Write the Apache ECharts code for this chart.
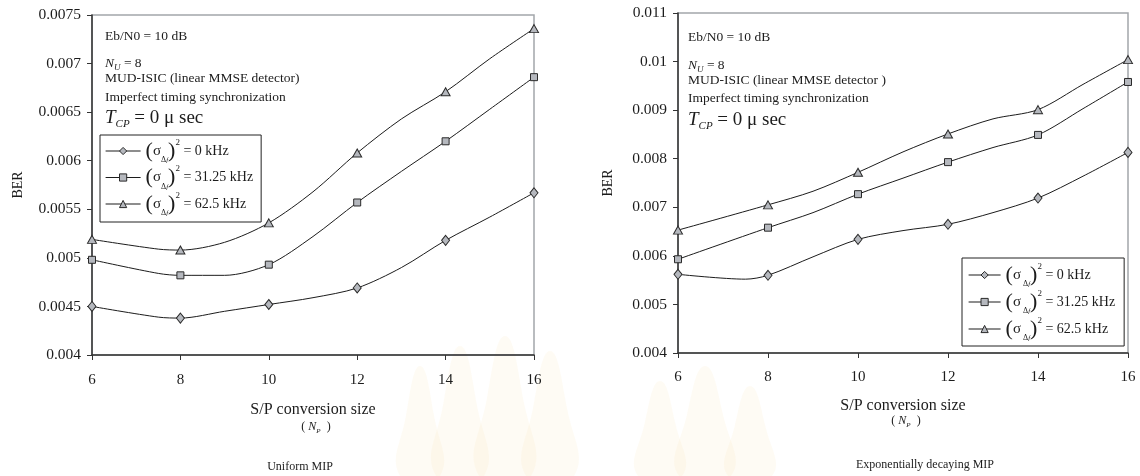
<!DOCTYPE html>
<html>
<head>
<meta charset="utf-8">
<script src="https://cdn.jsdelivr.net/npm/echarts@6/dist/echarts.min.js"></script>
<style>
  html, body { margin: 0; padding: 0; background: #ffffff; }
  #chart { width: 1140px; height: 476px; }
</style>
</head>
<body>
<div id="chart"></div>
<script>
// ---- BER vs S/P conversion size (N_P), Eb/N0 = 10 dB, N_U = 8 ----

// Uniform MIP
const uniformSizes = [6, 7.5, 8, 9, 10, 11, 12, 13, 14, 15, 16];
const uniformBer0  = [0.00450, 0.00439, 0.00438, 0.00445, 0.00452, 0.00459, 0.00469, 0.00490, 0.00518, 0.00542, 0.00567];
const uniformBer31 = [0.00498, 0.00484, 0.00482, 0.00482, 0.00493, 0.00522, 0.00557, 0.00589, 0.00620, 0.00653, 0.00686];
const uniformBer62 = [0.00519, 0.00509, 0.00508, 0.00516, 0.00536, 0.00568, 0.00608, 0.00643, 0.00671, 0.00705, 0.00736];

// Exponentially decaying MIP
const expSizes0 = [6, 7.5, 8, 9, 10, 11, 12, 13, 14, 15, 16];
const expBer0   = [0.00562, 0.00552, 0.00560, 0.00598, 0.00634, 0.00652, 0.00665, 0.00689, 0.00719, 0.00764, 0.00813];
const expSizes  = [6, 8, 9, 10, 11, 12, 13, 14, 15, 16];
const expBer31  = [0.00593, 0.00658, 0.00689, 0.00727, 0.00760, 0.00793, 0.00823, 0.00849, 0.00903, 0.00958];
const expBer62  = [0.00653, 0.00705, 0.00733, 0.00772, 0.00814, 0.00851, 0.00882, 0.00901, 0.00953, 0.01004];

// Legend entries (frequency offset variance)
const varianceLabels = ['0 kHz', '31.25 kHz', '62.5 kHz'];

// Axis ticks
const sizeTicks = [6, 8, 10, 12, 14, 16];
const uniformBerTicks = [0.004, 0.0045, 0.005, 0.0055, 0.006, 0.0065, 0.007, 0.0075];
const expBerTicks = [0.004, 0.005, 0.006, 0.007, 0.008, 0.009, 0.01, 0.011];

const SERIF = '"Liberation Serif", "Times New Roman", Times, serif';
const INK = '#1c1c1c';

const markerStyle = { color: '#b5b8be', borderColor: '#2a2a2a', borderWidth: 1 };
const markers = [
  { symbol: 'diamond',  size: [8, 10] },
  { symbol: 'rect',     size: [7, 7] },
  { symbol: 'triangle', size: [9, 8] }
];

function makeSeries(name, xs, ys, mk, axis) {
  return {
    type: 'line',
    name: name,
    xAxisIndex: axis,
    yAxisIndex: axis,
    symbol: mk.symbol,
    symbolSize: mk.size,
    showAllSymbol: true,
    smooth: 0.3,
    silent: true,
    z: 3,
    lineStyle: { color: INK, width: 1 },
    itemStyle: markerStyle,
    // markers only on the even conversion sizes
    data: xs.map((x, i) => ({
      value: [x, ys[i]],
      symbol: Number.isInteger(x) && x % 2 === 0 ? mk.symbol : 'none'
    }))
  };
}

function sigmaRich(p, s, d, t) {
  return {
    p:   { fontFamily: SERIF, fontSize: p, lineHeight: 26, color: INK },
    s:   { fontFamily: SERIF, fontSize: s, color: INK },
    d:   { fontFamily: SERIF, fontSize: d, verticalAlign: 'bottom', lineHeight: 18, color: INK },
    f:   { fontFamily: SERIF, fontSize: d - 1, fontStyle: 'italic', verticalAlign: 'bottom', lineHeight: 14, color: INK },
    sup: { fontFamily: SERIF, fontSize: 9, verticalAlign: 'top', lineHeight: 9, color: INK },
    t:   { fontFamily: SERIF, fontSize: t, color: INK }
  };
}

function legendFor(axis, box, rich, gap, iconW) {
  return {
    data: varianceLabels,
    orient: 'vertical',
    left: box.left,
    top: box.top,
    padding: box.padding,
    itemGap: gap,
    itemWidth: iconW,
    itemHeight: 9,
    borderColor: '#222',
    borderWidth: 1,
    backgroundColor: '#ffffff',
    selectedMode: false,
    inactiveColor: INK,
    lineStyle: { width: 1.2 },
    itemStyle: { borderWidth: 1 },
    formatter: name => '{p|(}{s|σ}{d|' + (axis ? ' Δ' : 'Δ') + '}{f|f}{p|)}{sup|2}{t| = ' + name + '}',
    textStyle: { rich: rich }
  };
}

function xAxisFor(i, margin) {
  return {
    type: 'value', gridIndex: i,
    min: sizeTicks[0], max: sizeTicks[sizeTicks.length - 1],
    interval: sizeTicks[1] - sizeTicks[0],
    axisLine: { lineStyle: { color: '#333', width: 1.5 } },
    axisTick: { show: true, length: 5, lineStyle: { color: '#333' } },
    splitLine: { show: false },
    axisLabel: { color: INK, fontFamily: SERIF, fontSize: 15, margin: margin }
  };
}

function yAxisFor(i, ticks) {
  return {
    type: 'value', gridIndex: i,
    min: ticks[0], max: ticks[ticks.length - 1],
    interval: ticks[1] - ticks[0],
    axisLine: { show: true, lineStyle: { color: '#333', width: 1.5 } },
    axisTick: { show: true, length: 5, lineStyle: { color: '#333' } },
    splitLine: { show: false },
    axisLabel: { color: INK, fontFamily: SERIF, fontSize: 15.5, margin: 11,
                 formatter: v => String(+v.toFixed(6)) }
  };
}

function txt(x, y, text, size, extra) {
  return {
    type: 'text', x: x, y: y, silent: true,
    style: Object.assign({ text: text, fill: INK, font: size + 'px ' + SERIF,
                           verticalAlign: 'middle', align: 'left' }, extra || {})
  };
}

function richTxt(x, y, text, rich, align) {
  return {
    type: 'text', x: x, y: y, silent: true,
    style: { text: text, rich: rich, fill: INK, verticalAlign: 'middle', align: align || 'left',
             font: '13px ' + SERIF }
  };
}

const nuRich = {
  i:   { fontFamily: SERIF, fontSize: 13.5, fontStyle: 'italic', color: INK, lineHeight: 18 },
  sub: { fontFamily: SERIF, fontSize: 9, fontStyle: 'italic', color: INK, verticalAlign: 'bottom', lineHeight: 11 },
  n:   { fontFamily: SERIF, fontSize: 13.5, color: INK }
};
const tcpRich = {
  i:   { fontFamily: SERIF, fontSize: 19, fontStyle: 'italic', color: INK, lineHeight: 24 },
  sub: { fontFamily: SERIF, fontSize: 11, fontStyle: 'italic', color: INK, verticalAlign: 'bottom', lineHeight: 14 },
  n:   { fontFamily: SERIF, fontSize: 19, color: INK }
};
const npRich = {
  n:   { fontFamily: SERIF, fontSize: 12, color: INK, lineHeight: 16 },
  i:   { fontFamily: SERIF, fontSize: 12, fontStyle: 'italic', color: INK },
  sub: { fontFamily: SERIF, fontSize: 7, fontStyle: 'italic', color: INK, verticalAlign: 'bottom', lineHeight: 10 }
};

function annotations(x, ys, detector) {
  return [
    txt(x, ys[0], 'Eb/N0 = 10 dB', 13.5),
    richTxt(x, ys[1], '{i|N}{sub|U}{n| = 8}', nuRich),
    txt(x, ys[2], detector, 13.5),
    txt(x, ys[3], 'Imperfect timing synchronization', 13.5),
    richTxt(x, ys[4], '{i|T}{sub|CP}{n| = 0 μ sec}', tcpRich)
  ];
}

function axisTitles(cx, yTitle, yNp, yCap, caption, capX, berX, berY) {
  return [
    txt(cx, yTitle, 'S/P conversion size', 16, { align: 'center' }),
    richTxt(cx + 3, yNp, '{n|( }{i|N}{sub|P}{n|  )}', npRich, 'center'),
    txt(capX, yCap, caption, 12, { align: 'center' }),
    Object.assign(txt(berX, berY, 'BER', 14, { align: 'center' }), { rotation: Math.PI / 2 })
  ];
}

// faint emblem watermark behind the lower middle of the page
function watermark() {
  const parts = [];
  const fill = 'rgba(248, 232, 185, 0.16)';
  const petals = [
    [420, 476, 20, 110], [460, 476, 24, 130], [505, 476, 26, 140], [550, 476, 24, 125],
    [660, 476, 22, 95], [705, 476, 26, 110], [750, 476, 22, 90]
  ];
  petals.forEach(([cx, by, hw, h]) => {
    parts.push({
      type: 'polygon', silent: true, z: -10,
      shape: { points: [[cx - hw, by], [cx - hw * 0.7, by - h * 0.55], [cx, by - h], [cx + hw * 0.7, by - h * 0.55], [cx + hw, by]], smooth: 0.5 },
      style: { fill: fill }
    });
  });
  return parts;
}

const chart = echarts.init(document.getElementById('chart'), null, { renderer: 'canvas' });

chart.setOption({
  animation: false,
  backgroundColor: '#ffffff',
  grid: [
    { left: 92, top: 15, width: 442, height: 340, show: true, borderColor: '#a3a6ab', borderWidth: 1.5, backgroundColor: 'transparent' },
    { left: 678, top: 13, width: 450, height: 340, show: true, borderColor: '#a3a6ab', borderWidth: 1.5, backgroundColor: 'transparent' }
  ],
  xAxis: [xAxisFor(0, 18), xAxisFor(1, 17)],
  yAxis: [yAxisFor(0, uniformBerTicks), yAxisFor(1, expBerTicks)],
  legend: [
    legendFor(0, { left: 100, top: 135, padding: [3, 8, 5, 5] }, sigmaRich(22, 15, 8, 14), 0.5, 35),
    legendFor(1, { left: 962, top: 258, padding: [4, 9, 4, 6] }, sigmaRich(22, 15, 8, 14), 1, 32)
  ],
  series: [
    makeSeries(varianceLabels[0], uniformSizes, uniformBer0, markers[0], 0),
    makeSeries(varianceLabels[1], uniformSizes, uniformBer31, markers[1], 0),
    makeSeries(varianceLabels[2], uniformSizes, uniformBer62, markers[2], 0),
    makeSeries(varianceLabels[0], expSizes0, expBer0, markers[0], 1),
    makeSeries(varianceLabels[1], expSizes, expBer31, markers[1], 1),
    makeSeries(varianceLabels[2], expSizes, expBer62, markers[2], 1)
  ],
  graphic: [].concat(
    watermark(),
    annotations(105, [36, 63, 78, 97.5, 118], 'MUD-ISIC (linear MMSE detector)'),
    annotations(688, [37.5, 65, 80.5, 98.5, 120], 'MUD-ISIC (linear MMSE detector )'),
    axisTitles(313, 410, 427, 467, 'Uniform MIP', 300, 18, 185),
    axisTitles(903, 406, 421, 465, 'Exponentially decaying MIP', 925, 608, 183)
  )
});
</script>
</body>
</html>
